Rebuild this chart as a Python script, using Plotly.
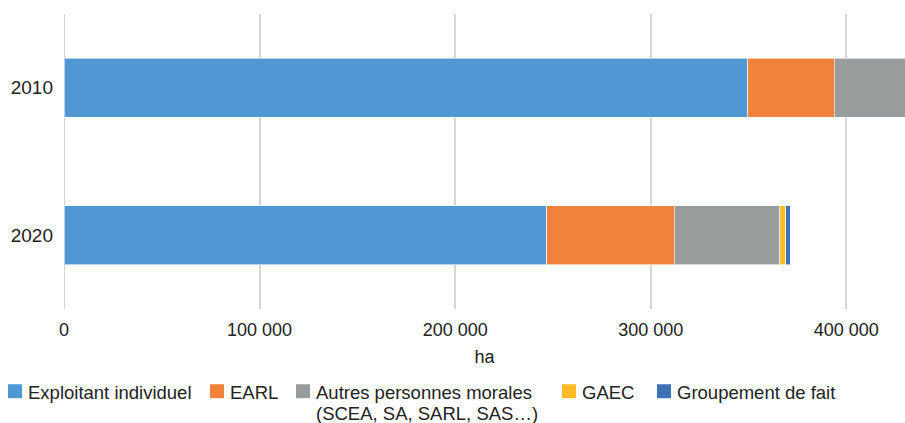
import plotly.graph_objects as go

years = ["2010", "2020"]
series_names = [
    "Exploitant individuel",
    "EARL",
    "Autres personnes morales<br>(SCEA, SA, SARL, SAS…)",
    "GAEC",
    "Groupement de fait",
]
exploitant = [349700, 246900]
earl = [44000, 65000]
autres = [52000, 54100]
gaec = [2500, 3100]
groupement = [3000, 2100]
colors = ["#5097D3", "#F0823B", "#999C9C", "#FBBA26", "#3F73B8"]
tick_vals = [0, 100000, 200000, 300000, 400000]
tick_text = ["0", "100 000", "200 000", "300 000", "400 000"]

W, H = 905, 423
ML, MR, MT, MB = 64, 0, 13.5, 113.5
PW, PH = W - ML - MR, H - MT - MB

fig = go.Figure()
for name, vals, col in zip(series_names, [exploitant, earl, autres, gaec, groupement], colors):
    fig.add_trace(go.Bar(
        y=years, x=vals, name=name.replace("<br>", " "), orientation="h", showlegend=False,
        marker=dict(color=col, line=dict(color="rgba(255,255,255,0.6)", width=1)),
    ))

font = "Liberation Sans, Arial, sans-serif"
txt = "#222222"
fig.update_layout(
    barmode="stack",
    bargap=0.6,
    width=W, height=H,
    margin=dict(l=ML, r=MR, t=MT, b=MB, autoexpand=False),
    paper_bgcolor="white", plot_bgcolor="white",
    font=dict(family=font, size=18, color=txt),
    showlegend=False,
    xaxis=dict(range=[0, 430000], tickvals=tick_vals, ticktext=tick_text,
               showgrid=True, gridcolor="#D6D6D6", gridwidth=2, automargin=False,
               zeroline=False, showline=False, ticks="", ticklabelstandoff=8,
               tickfont=dict(size=18, color=txt),
               title=dict(text="ha", font=dict(size=18, color=txt), standoff=11)),
    yaxis=dict(autorange="reversed", showgrid=False, zeroline=False, showline=False,
               ticks="", ticklabelstandoff=10, automargin=False,
               tickfont=dict(size=19, color=txt)),
)
fig.add_shape(type="line", xref="x", yref="paper", x0=0, x1=0, y0=0, y1=1,
              line=dict(color="#D6D6D6", width=2), layer="below")

# custom legend (pixel layout converted to paper coordinates)
def px(x):
    return (x - ML) / PW

def py(y):
    return (H - MB - y) / PH

legend_x = [8, 210, 296, 562, 657]
row_top, row_bot = 385, 399
line_centers = [393, 414]
for name, col, x0 in zip(series_names, colors, legend_x):
    fig.add_shape(type="rect", xref="paper", yref="paper",
                  x0=px(x0), x1=px(x0 + 14), y0=py(row_bot), y1=py(row_top),
                  fillcolor=col, line=dict(width=0))
    for line, yc in zip(name.split("<br>"), line_centers):
        fig.add_annotation(xref="paper", yref="paper", x=px(x0 + 18), y=py(yc),
                           xanchor="left", yanchor="middle", align="left",
                           text=line, showarrow=False,
                           font=dict(size=18.5, color=txt, family=font))
fig.write_html("out.html", config={"displayModeBar": False},
               post_script="document.body.style.margin='0';document.body.style.overflow='hidden';")
